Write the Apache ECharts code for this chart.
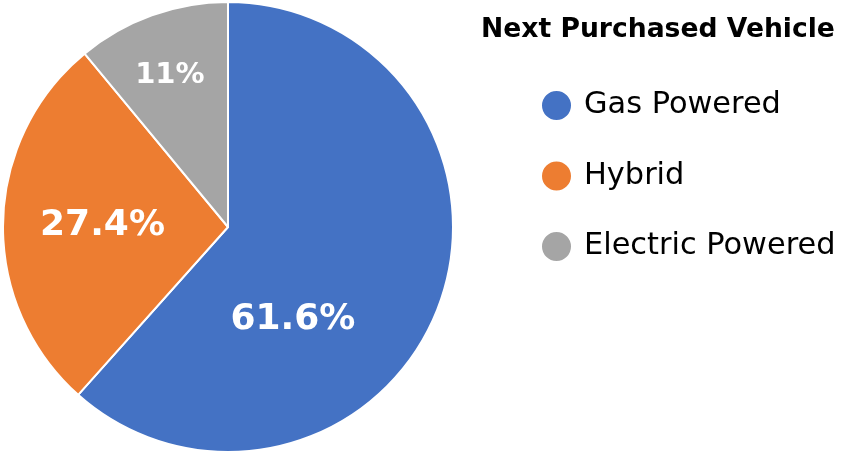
<!DOCTYPE html>
<html>
<head>
<meta charset="utf-8">
<script src="https://cdn.jsdelivr.net/npm/echarts@6/dist/echarts.min.js"></script>
<style>
  html, body { margin: 0; padding: 0; background: #ffffff; }
  #chart { width: 841px; height: 451px; }
</style>
</head>
<body>
<div id="chart"></div>
<script>
// Survey result: type of the next vehicle people plan to buy
const chartTitle = 'Next Purchased Vehicle';
const categories = ['Gas Powered', 'Hybrid', 'Electric Powered'];
const shares = [61.6, 27.4, 11];
const colors = ['#4472C4', '#ED7D31', '#A5A5A5'];

// Nudges of each inside label away from the slice midpoint
const labelShift = [[-43, 51], [-10, 1], [-19, -43]];
const labelSize = [36, 36, 29];

const FONT = '"DejaVu Sans", sans-serif';

const chart = echarts.init(document.getElementById('chart'), null, { renderer: 'canvas' });

chart.setOption({
  animation: false,
  color: colors,
  title: {
    text: chartTitle,
    left: 476,
    top: 12,
    textStyle: { fontFamily: FONT, fontSize: 26.6, fontWeight: 'bold', color: '#000000' }
  },
  legend: {
    orient: 'vertical',
    left: 540,
    top: 89,
    padding: 0,
    icon: 'circle',
    itemWidth: 31,
    itemHeight: 31,
    itemGap: 37.5,
    itemTextGap: 14,
    data: categories,
    textStyle: { fontFamily: FONT, fontSize: 30.4, lineHeight: 30, padding: [0, 0, 0, 7], color: '#000000' }
  },
  series: [{
    type: 'pie',
    center: [228, 227],
    radius: [0, 225],
    startAngle: 90,
    clockwise: true,
    silent: true,
    itemStyle: { borderColor: '#ffffff', borderWidth: 2 },
    label: {
      show: true,
      position: 'inside',
      fontFamily: FONT,
      fontWeight: 'bold',
      color: '#ffffff',
      formatter: p => p.value + '%'
    },
    labelLine: { show: false },
    labelLayout: p => ({ dx: labelShift[p.dataIndex][0], dy: labelShift[p.dataIndex][1] }),
    data: categories.map((name, i) => ({
      name: name,
      value: shares[i],
      label: { fontSize: labelSize[i] }
    }))
  }]
});
</script>
</body>
</html>
